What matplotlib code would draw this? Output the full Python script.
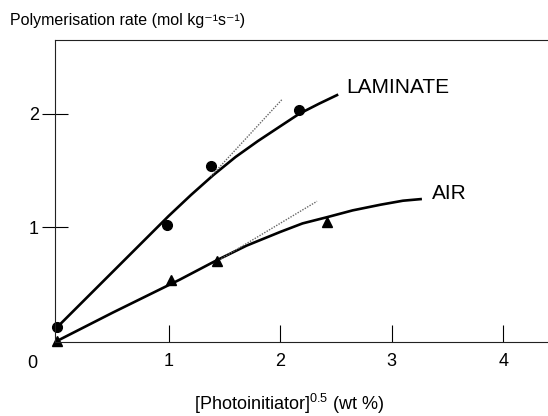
import matplotlib
matplotlib.use("Agg")
import matplotlib.pyplot as plt

plt.rcParams['font.family'] = ['Liberation Sans', 'DejaVu Sans']
plt.rcParams['mathtext.fontset'] = 'custom'
plt.rcParams['mathtext.rm'] = 'Liberation Sans'
plt.rcParams['mathtext.it'] = 'Liberation Sans'

# Measured points
lam_x = [0.0, 0.99, 1.38, 2.17]
lam_y = [0.12, 1.02, 1.54, 2.03]
air_x = [0.0, 1.02, 1.43, 2.42]
air_y = [0.0, 0.54, 0.70, 1.05]

# Fitted curves
lam_cx = [0.0, 0.5, 1.0, 1.2, 1.4, 1.6, 1.8, 2.0, 2.17, 2.35, 2.52]
lam_cy = [0.12, 0.61, 1.10, 1.285, 1.46, 1.62, 1.76, 1.89, 2.00, 2.09, 2.17]
air_cx = [0.0, 0.5, 1.1, 1.43, 1.7, 2.0, 2.2, 2.42, 2.65, 2.9, 3.1, 3.27]
air_cy = [0.0, 0.25, 0.54, 0.71, 0.84, 0.96, 1.035, 1.09, 1.15, 1.20, 1.235, 1.25]

# Initial-slope (tangent) dotted lines
lam_tx = [1.38, 2.02]
lam_ty = [1.45, 2.13]
air_tx = [1.43, 2.33]
air_ty = [0.70, 1.23]

xticks = [1, 2, 3, 4]
yticks = [1, 2]

W, H = 548, 416
fig = plt.figure(figsize=(W / 100, H / 100), dpi=100)
ax = fig.add_axes([55 / W, (H - 342) / H, (W - 55) / W, (342 - 40) / H])

ax.plot(lam_cx, lam_cy, color='black', lw=1.9, solid_capstyle='butt', solid_joinstyle='round')
ax.plot(air_cx, air_cy, color='black', lw=1.9, solid_capstyle='butt', solid_joinstyle='round')
ax.plot(lam_tx, lam_ty, color='#666666', lw=1.0, linestyle=(0, (1, 1)))
ax.plot(air_tx, air_ty, color='#666666', lw=1.0, linestyle=(0, (1, 1)))
ax.plot(lam_x, lam_y, 'o', color='black', ms=7, clip_on=False)
ax.plot(air_x, air_y, '^', color='black', ms=7, clip_on=False)

ax.text(2.59, 2.23, 'LAMINATE', fontsize=15, va='center', ha='left')
ax.text(3.36, 1.30, 'AIR', fontsize=15, va='center', ha='left')

ax.set_xlim(-0.018, 4.40)
ax.set_ylim(-0.009, 2.65)
ax.set_xticks(xticks)
ax.set_yticks(yticks)
ax.set_xticklabels([str(t) for t in xticks], fontsize=13)
ax.set_yticklabels([str(t) for t in yticks], fontsize=13)
ax.tick_params(axis='x', direction='in', length=12, width=0.8, pad=8)
ax.tick_params(axis='y', direction='inout', length=19, width=0.8, pad=2)
for s in ['left', 'bottom', 'top']:
    ax.spines[s].set_linewidth(0.8)
    ax.spines[s].set_color('#222222')
ax.spines['right'].set_visible(False)

fig.text(37 / W, 1 - 363 / H, '0', fontsize=13, ha='right', va='center')
fig.text(10 / W, 1 - 20 / H, 'Polymerisation rate (mol kg\u207b\u00b9s\u207b\u00b9)',
         fontsize=11.5, ha='left', va='center')
fig.text(289 / W, 1 - 404 / H, r'[Photoinitiator]$^{0.5}$ (wt %)',
         fontsize=13, ha='center', va='center')

fig.savefig('out.png', dpi=100)
